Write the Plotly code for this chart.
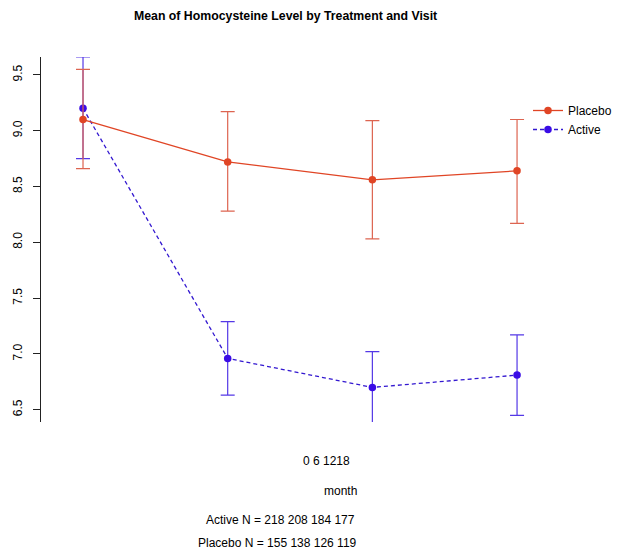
import plotly.graph_objects as go

months = [0, 6, 12, 18]
placebo_mean = [9.10, 8.72, 8.56, 8.64]
placebo_lo = [8.66, 8.28, 8.03, 8.17]
placebo_hi = [9.55, 9.17, 9.09, 9.10]
active_mean = [9.20, 6.96, 6.70, 6.81]
active_lo = [8.75, 6.63, 6.38, 6.45]
active_hi = [9.66, 7.29, 7.02, 7.17]
active_n = [218, 208, 184, 177]
placebo_n = [155, 138, 126, 119]
yticks = [6.5, 7.0, 7.5, 8.0, 8.5, 9.0, 9.5]

RED = "#E04525"
BLUE = "#3A0CE6"
RED_BAR = "#DD6450"
BLUE_BAR = "#5438E6"
FONT = "Liberation Sans, Arial, Helvetica, sans-serif"

fig = go.Figure()
fig.add_trace(go.Scatter(
    x=months, y=active_mean, name="Active", mode="lines+markers",
    line=dict(color="#3318D0", width=1.3, dash="4px,3px"),
    marker=dict(color=BLUE, size=7.5),
    error_y=dict(type="data", symmetric=False,
                 array=[h - m for h, m in zip(active_hi, active_mean)],
                 arrayminus=[m - l for l, m in zip(active_lo, active_mean)],
                 color=BLUE_BAR, thickness=1.2, width=7),
    legendrank=2,
))
fig.add_trace(go.Scatter(
    x=months, y=placebo_mean, name="Placebo", mode="lines+markers",
    line=dict(color=RED, width=1.3),
    marker=dict(color=RED, size=7.5),
    error_y=dict(type="data", symmetric=False,
                 array=[h - m for h, m in zip(placebo_hi, placebo_mean)],
                 arrayminus=[m - l for l, m in zip(placebo_lo, placebo_mean)],
                 color=RED_BAR, thickness=1.2, width=7),
    legendrank=1,
))

# the page body adds an 8px offset; compensate
O = 8
L, T, R, B = 41 - O, 57 - O, 32, 140
W, H = 624, 554
pw = W - L - R
ph = H - T - B

def sx(x):
    return (x - O - L) / pw

def sy(y):
    return (H - B - (y - O)) / ph

def note(text, x, y, **kw):
    return dict(text=text, x=sx(x), y=sy(y), xref="paper", yref="paper",
                xanchor="center", yanchor="middle", showarrow=False, **kw)

fig.update_layout(
    width=W, height=H,
    margin=dict(l=L, r=R, t=T, b=B, autoexpand=False),
    paper_bgcolor="white", plot_bgcolor="white",
    font=dict(family=FONT, size=12, color="black"),
    showlegend=True,
    legend=dict(x=sx(528), y=sy(96), xanchor="left", yanchor="top",
                bgcolor="rgba(0,0,0,0)", font=dict(size=12), tracegroupgap=0,
                itemwidth=30),
    xaxis=dict(range=[-1.742, 21.44], visible=False),
    yaxis=dict(range=[6.39, 9.66], tickvals=yticks,
               ticktext=[f"{v:.1f}" for v in yticks],
               tickangle=-90, showline=True, linecolor="#222222", linewidth=1,
               ticks="outside", ticklen=7, tickcolor="#222222", automargin=False,
               ticklabelstandoff=6,
               showgrid=False, zeroline=False, tickfont=dict(size=12)),
    annotations=[
        note("<b>Mean of Homocysteine Level by Treatment and Visit</b>", 285, 16,
             font=dict(size=12.3)),
        note(" ".join(str(m) for m in months[:2]) + " " + "".join(str(m) for m in months[2:]), 326, 461),
        note("month", 340, 491),
        note("Active N = " + " ".join(str(n) for n in active_n), 280, 520),
        note("Placebo N = " + " ".join(str(n) for n in placebo_n), 277, 543),
    ],
)

fig.write_html("out.html")
